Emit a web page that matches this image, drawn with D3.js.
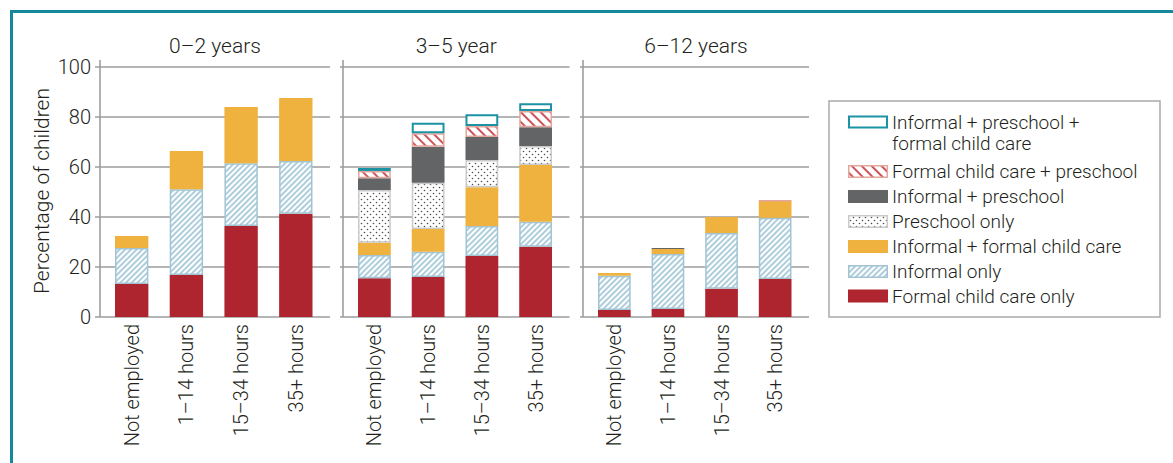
<!DOCTYPE html>
<html><head><meta charset="utf-8">
<script src="https://cdn.jsdelivr.net/npm/d3@7"></script>
<style>
html,body{margin:0;padding:0;background:#fff;}
svg{display:block;font-family:Roboto,"Open Sans",sans-serif;font-weight:300;}
</style></head>
<body>
<svg id="chart" width="1173" height="463"></svg>
<script>
// ---- data ----
const panelTitles = ["0–2 years", "3–5 year", "6–12 years"];
const categories = ["Not employed", "1–14 hours", "15–34 hours", "35+ hours"];
const yTicks = [0, 20, 40, 60, 80, 100];
const yLabel = "Percentage of children";
// series values per panel (panel -> category)
const formalOnly        = [[13.2,16.8,36.4,41.3],[15.5,16.0,24.4,28.1],[2.8,3.2,11.3,15.2]];
const informalOnly      = [[14.4,34.3,25.1,21.1],[9.3,10.1,12.0,10.0],[13.7,22.0,22.3,24.5]];
const informalFormal    = [[4.8,15.3,22.5,25.2],[4.9,9.1,15.5,22.7],[1.1,2.0,6.4,6.8]];
const preschoolOnly     = [[0,0,0,0],[21.1,18.5,10.9,7.6],[0,0,0,0]];
const informalPreschool = [[0,0,0,0],[4.7,14.4,9.2,7.5],[0,0.4,0,0]];
const formalPreschool   = [[0,0,0,0],[2.9,5.4,4.4,6.5],[0,0,0,0.3]];
const allThree          = [[0,0,0,0],[1.2,4.2,4.7,3.1],[0,0,0,0]];
const seriesNames = ["Formal child care only","Informal only","Informal + formal child care","Preschool only","Informal + preschool","Formal child care + preschool","Informal + preschool + formal child care"];
const seriesValues = [formalOnly, informalOnly, informalFormal, preschoolOnly, informalPreschool, formalPreschool, allThree];

// ---- styles ----
const styles = [
  {fill:"#ae2530", stroke:null},
  {fill:"url(#hatchBlue)", stroke:"#a2c4d2", sw:1.5},
  {fill:"#f0b23e", stroke:null},
  {fill:"url(#dots)", stroke:"#cacaca", sw:1.5},
  {fill:"#636466", stroke:null},
  {fill:"url(#hatchRed)", stroke:"#e3a79d", sw:1.5},
  {fill:"#ffffff", stroke:"#1b93a5", sw:2}
];

const svg = d3.select("#chart");
const defs = svg.append("defs");
const pb = defs.append("pattern").attr("id","hatchBlue").attr("patternUnits","userSpaceOnUse")
  .attr("width",4).attr("height",4).attr("patternTransform","rotate(45)");
pb.append("rect").attr("width",4).attr("height",4).attr("fill","#fff");
pb.append("line").attr("x1",1).attr("y1",0).attr("x2",1).attr("y2",4).attr("stroke","#6aa5bf").attr("stroke-width",1.1);
const pr = defs.append("pattern").attr("id","hatchRed").attr("patternUnits","userSpaceOnUse")
  .attr("width",7).attr("height",7).attr("patternTransform","rotate(-45)");
pr.append("rect").attr("width",7).attr("height",7).attr("fill","#fff");
pr.append("line").attr("x1",2).attr("y1",0).attr("x2",2).attr("y2",7).attr("stroke","#c1272f").attr("stroke-width",1.6);
const pd = defs.append("pattern").attr("id","dots").attr("patternUnits","userSpaceOnUse")
  .attr("width",6).attr("height",6);
pd.append("rect").attr("width",6).attr("height",6).attr("fill","#fff");
pd.append("circle").attr("cx",1.5).attr("cy",1.5).attr("r",0.8).attr("fill","#4d4d4d");
pd.append("circle").attr("cx",4.5).attr("cy",4.5).attr("r",0.8).attr("fill","#4d4d4d");

// frame
svg.append("line").attr("x1",10).attr("x2",1173).attr("y1",11.5).attr("y2",11.5).attr("stroke","#13899b").attr("stroke-width",3);
svg.append("line").attr("x1",11.5).attr("x2",11.5).attr("y1",10).attr("y2",463).attr("stroke","#13899b").attr("stroke-width",3);

const y = d3.scaleLinear().domain([0,100]).range([317,67]);
const panelLayout = [{ax:100, end:330, tick:5},{ax:343, end:569.5, tick:3},{ax:583, end:809, tick:3}];
const textColor = "#231f20";
const gridColor = "#9d9d9d";

panelLayout.forEach((pl, pi) => {
  const g = svg.append("g");
  g.selectAll("line.grid").data(yTicks).join("line")
    .attr("x1", pl.ax - pl.tick).attr("x2", pl.end)
    .attr("y1", d => y(d)).attr("y2", d => y(d))
    .attr("stroke", gridColor).attr("stroke-width", 1.6);
  g.append("line").attr("x1", pl.ax).attr("x2", pl.ax).attr("y1", 60).attr("y2", y(0))
    .attr("stroke", gridColor).attr("stroke-width", 1.6);
  g.append("text").attr("x", (pl.ax + pl.end)/2).attr("y", 53).attr("text-anchor","middle")
    .attr("font-size", 21).attr("fill", textColor).text(panelTitles[pi]);

  const x = d3.scaleBand().domain(categories).range([pl.ax + 15, pl.end - 17.5]).paddingInner(0.39).paddingOuter(0);
  categories.forEach((c, ci) => {
    let base = 0;
    seriesValues.forEach((sv, si) => {
      const v = sv[pi][ci];
      if (v > 0) {
        const st = styles[si];
        const y0 = y(base), y1 = y(base + v);
        const inset = st.stroke ? st.sw/2 : 0;
        g.append("rect")
          .attr("x", x(c) + inset).attr("width", x.bandwidth() - 2*inset)
          .attr("y", y1 + inset).attr("height", Math.max(0.01, y0 - y1 - 2*inset))
          .attr("fill", st.fill)
          .attr("stroke", st.stroke || "none").attr("stroke-width", st.sw || 0);
      }
      base += v;
    });
    const cx = x(c) + x.bandwidth()/2;
    g.append("text").attr("transform", `translate(${cx + 7},324) rotate(-90)`)
      .attr("text-anchor","end").attr("font-size", 20).attr("fill", textColor).text(c);
  });
  if (pi === 0) {
    g.selectAll("text.tick").data(yTicks).join("text")
      .attr("x", 91).attr("y", d => y(d)).attr("dy", "0.35em").attr("text-anchor","end")
      .attr("font-size", 20).attr("fill", textColor).text(d => d);
    g.append("text").attr("transform", `translate(49,191) rotate(-90)`).attr("text-anchor","middle")
      .attr("font-size", 21).attr("fill", textColor).text(yLabel);
  }
});

// legend
const lg = svg.append("g");
lg.append("rect").attr("x", 829).attr("y", 101).attr("width", 331).attr("height", 216)
  .attr("fill","#fff").attr("stroke","#a9a9a9").attr("stroke-width",1.5);
const legendOrder = [6,5,4,3,2,1,0];
const legendLines = {6:["Informal + preschool +","formal child care"]};
const legendY = [122, 171.5, 196.5, 221.5, 246.5, 271.5, 296];
legendOrder.forEach((si, i) => {
  const st = styles[si];
  const cy = legendY[i];
  const inset = st.stroke ? st.sw/2 : 0;
  lg.append("rect").attr("x", 848 + inset).attr("y", cy - 6.5 + inset)
    .attr("width", 40 - 2*inset).attr("height", 13 - 2*inset)
    .attr("fill", st.fill).attr("stroke", st.stroke || "none").attr("stroke-width", st.sw || 0);
  const lines = legendLines[si] || [seriesNames[si]];
  lines.forEach((t, li) => {
    lg.append("text").attr("x", 892).attr("y", cy + li*21).attr("dy","0.35em")
      .attr("font-size", 19).attr("fill", textColor).text(t);
  });
});
</script>
</body></html>
